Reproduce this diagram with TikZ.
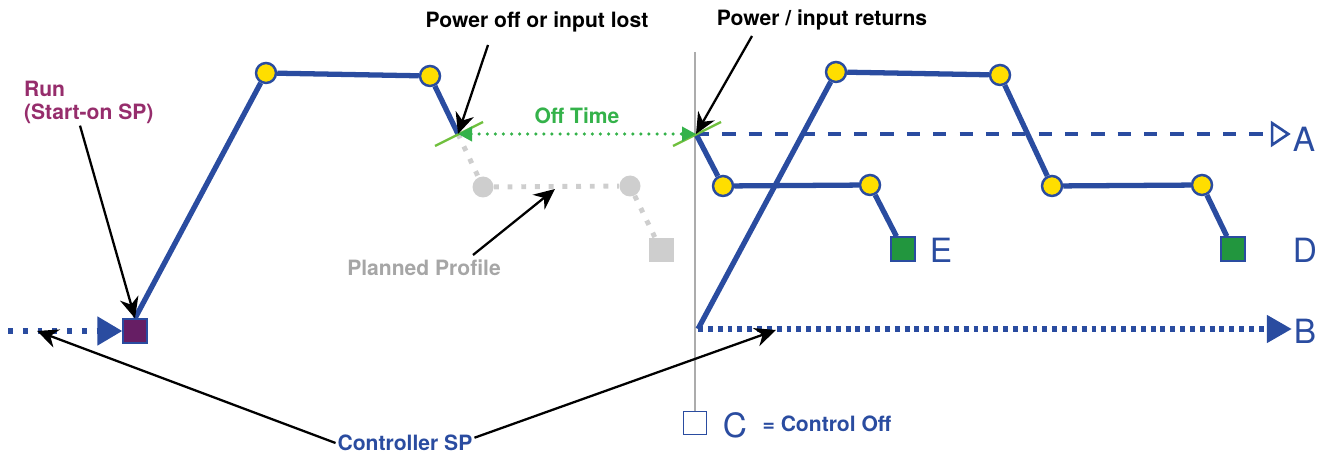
\documentclass[tikz,border=0pt]{standalone}
\usepackage{fontspec}
\setmainfont{TeX Gyre Heros}
\usetikzlibrary{positioning,arrows.meta}

\definecolor{spblue}{RGB}{42,76,160}
\definecolor{spyellow}{RGB}{255,222,0}
\definecolor{boxgreen}{RGB}{34,150,62}
\definecolor{offgreen}{RGB}{52,178,74}
\definecolor{tickgreen}{RGB}{112,192,62}
\definecolor{runpurple}{RGB}{150,45,108}
\definecolor{boxpurple}{RGB}{102,30,100}
\definecolor{ghostgray}{RGB}{206,206,206}
\definecolor{ghosttext}{RGB}{166,166,166}
\definecolor{axisgray}{RGB}{172,172,172}

\begin{document}
\begin{tikzpicture}[
  x=0.02cm, y=-0.02cm,
  >={Stealth[length=4.2mm, width=3.8mm]},
  seg/.style={draw=spblue, line width=3pt},
  pt/.style={circle, draw=spblue, fill=spyellow, line width=1.4pt, inner sep=0pt, minimum size=4mm},
  ghost/.style={circle, fill=ghostgray, inner sep=0pt, minimum size=4.2mm},
  endbox/.style={rectangle, draw=spblue, line width=0.8pt, inner sep=0pt, minimum size=4.8mm},
  ghostbox/.style={rectangle, fill=ghostgray, inner sep=0pt, minimum size=5mm},
  ghostline/.style={draw=ghostgray, line width=2.8pt, dash pattern=on 2.8pt off 5pt},
  spdots/.style={draw=spblue, line width=2.9pt, dash pattern=on 2.8pt off 5.6pt},
  bdots/.style={draw=spblue, line width=2.9pt, dash pattern=on 2.8pt off 2.8pt},
  adash/.style={draw=spblue, line width=2.6pt, dash pattern=on 7.5pt off 7.5pt},
  offdots/.style={draw=offgreen, line width=2pt, line cap=round, dash pattern=on 0pt off 4.6pt},
  tick/.style={draw=tickgreen, line width=1.3pt},
  axisline/.style={draw=axisgray, line width=0.8pt},
  callout/.style={->, line width=1.3pt},
  lbl/.style={font=\fontsize{12}{13}\selectfont\bfseries, align=center, inner sep=1pt},
  letter/.style={font=\fontsize{19}{19}\selectfont, text=spblue, inner sep=1pt}
]
\useasboundingbox (0,0) rectangle (1325,462);

% labels
\node[lbl, text=runpurple, align=left, anchor=north west] (runlbl) at (22,79) {Run\\(Start-on SP)};
\node[lbl] (offlbl) at (537,22) {Power off or input lost};
\node[lbl] (retlbl) at (822,20) {Power / input returns};
\node[lbl, text=ghosttext] (planlbl) at (424,268) {Planned Profile};
\node[lbl, text=spblue] (csplbl) at (405,443) {Controller SP};
\node[lbl, text=spblue] (cofflbl) at (827,424) {= Control Off};

% points
\coordinate (lin) at (8,331);
\coordinate (lost) at (458,134);
\coordinate (back) at (696,134);
\coordinate (bstart) at (698,329);
\coordinate (vtop) at (695,52);

\node[endbox, fill=boxpurple] (run) at (135,331) {};
\node[pt] (p1) at (266,73) {};
\node[pt] (p2) at (430,76) {};

\node[ghost] (g1) at (483,187) {};
\node[ghost] (g2) at (630,186) {};
\node[ghostbox] (gs) at (661,250) {};

\node[pt] (r1) at (836,72) {};
\node[pt] (r2) at (1000,75) {};
\node[pt] (r3) at (1052,186) {};
\node[pt] (r4) at (1202,185) {};
\node[endbox, fill=boxgreen] (dbox) at (1233,249) {};

\node[pt] (s1) at (723,186) {};
\node[pt] (s2) at (870,185) {};
\node[endbox, fill=boxgreen] (ebox) at (903,249) {};

\node[endbox, fill=white, line width=1pt, minimum size=4.6mm] (cbox) at (695,423) {};

\node[letter] (la) at (1304,139) {A};
\node[letter] (lb) at (1305,331) {B};
\node[letter] (lc) at (735,425) {C};
\node[letter] (ld) at (1305,250) {D};
\node[letter] (le) at (941,250) {E};

% planned profile (not run)
\draw[ghostline] (lost) -- (g1) -- (g2) -- (gs);

% control off axis
\draw[axisline] (vtop) -- (cbox);

% setpoint lines
\draw[spdots, -{Triangle[length=5mm, width=5.6mm]}] (lin) -- (run);
\draw[bdots, -{Triangle[length=5mm, width=5.4mm]}] (bstart) -- (bstart -| lb.west);
\draw[adash, -{Triangle[open, length=4mm, width=5.2mm, line width=1.5pt]}] (back) -- (back -| la.west);

% profiles
\draw[seg] (run.north) -- (p1) -- (p2) -- (lost);
\draw[seg] (bstart) -- (r1) -- (r2) -- (r3) -- (r4) -- (dbox);
\draw[seg] (back) -- (s1) -- (s2) -- (ebox);

% off time
\draw[tick] ([shift={(-23,12)}]lost) -- ([shift={(25,-12)}]lost);
\draw[tick] ([shift={(-23,12)}]back) -- ([shift={(25,-12)}]back);
\draw[offdots, {Triangle[length=2.8mm, width=2.8mm]}-{Triangle[length=2.8mm, width=2.8mm]}] (lost) -- (back)
  node[lbl, text=offgreen, midway, above=4pt] (offtime) {Off Time};

% callouts
\coordinate (offtail) at (488,45);
\coordinate (rettail) at (752,36);
\coordinate (plantail) at (473,255);
\coordinate (planhead) at (555,189);
\coordinate (sphl) at (37,331);
\coordinate (sphr) at (776,330);
\draw[callout] ([xshift=-5pt]runlbl.south) -- (run.north);
\draw[callout] (offtail) -- (lost);
\draw[callout] (rettail) -- (back);
\draw[callout] (plantail) -- (planhead);
\draw[callout] (csplbl.west) -- (sphl);
\draw[callout] ([yshift=3pt]csplbl.east) -- (sphr);

\end{tikzpicture}
\end{document}
